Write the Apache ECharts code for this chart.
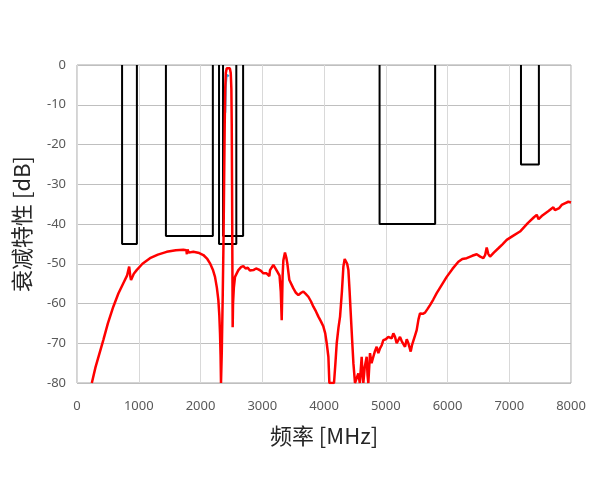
<!DOCTYPE html>
<html>
<head>
<meta charset="utf-8">
<script src="https://cdn.jsdelivr.net/npm/echarts@6/dist/echarts.min.js"></script>
<style>
  html, body { margin: 0; padding: 0; background: #fff; }
  #chart { width: 600px; height: 480px; }
</style>
</head>
<body>
<div id="chart"></div>
<script>
// measured filter response: [frequency MHz, attenuation dB]
const responseRed = [
  [240, -80], [300, -76], [426, -69.2], [500, -65], [588, -60.8], [670, -57.5],
  [750, -54.9], [810, -53], [845, -50.7], [862, -53], [875, -54.1], [920, -52.5],
  [966, -51.6], [1060, -50], [1182, -48.6], [1310, -47.7], [1452, -47.0], [1600, -46.6],
  [1722, -46.5], [1770, -46.6], [1780, -47.6], [1790, -46.4], [1810, -47.2], [1884, -47.0],
  [1980, -47.3], [2046, -47.8], [2110, -48.8], [2154, -49.9], [2200, -51.5], [2235, -53.3],
  [2265, -56], [2289, -59.1], [2305, -63], [2316, -67.5], [2325, -73], [2332, -80],
  [2345, -72], [2360, -58], [2372, -45], [2382, -30], [2392, -15], [2400, -6],
  [2410, -2], [2425, -0.8], [2450, -0.5], [2475, -0.8], [2490, -2], [2500, -6],
  [2506, -15], [2511, -30], [2515, -45], [2518, -55], [2521, -66], [2527, -60],
  [2540, -56], [2559, -53.3], [2613, -51.6], [2660, -50.8], [2694, -50.6], [2730, -51.2],
  [2766, -51], [2800, -51.7], [2856, -51.6], [2900, -51.2], [2937, -51.4], [2980, -51.8],
  [3018, -52.4], [3070, -52.4], [3115, -53.1], [3126, -51.6], [3180, -50.3], [3244, -52.0],
  [3280, -53], [3300, -57], [3315, -64.2], [3330, -53], [3342, -49.1], [3368, -47.2],
  [3390, -48.5], [3406, -49.9], [3439, -54.1], [3504, -56.2], [3545, -57.3], [3585, -57.9],
  [3630, -57.3], [3666, -57.0], [3700, -57.5], [3747, -58.3], [3790, -59.5], [3828, -60.8],
  [3870, -62], [3909, -63.3], [3950, -64.5], [3990, -65.8], [4020, -67.5], [4044, -70.0],
  [4071, -73.4], [4087, -80], [4162, -80], [4185, -75], [4206, -70], [4235, -66],
  [4260, -63.3], [4290, -57], [4314, -50.7], [4335, -48.8], [4352, -48.9], [4375, -50],
  [4395, -51.6], [4415, -57], [4433, -62.5], [4455, -69], [4476, -75], [4502, -80],
  [4530, -80], [4556, -77.6], [4580, -80], [4610, -73.4], [4625, -78], [4637, -80],
  [4660, -76], [4691, -73.4], [4705, -78], [4718, -80], [4745, -72.5], [4770, -75],
  [4799, -73.4], [4825, -72], [4853, -70.9], [4880, -72.5], [4907, -71.3], [4935, -70.5],
  [4961, -69.2], [5000, -69], [5042, -68.4], [5069, -68.4], [5096, -68.8], [5123, -67.5],
  [5150, -68.4], [5177, -70], [5204, -69.2], [5231, -68.4], [5260, -69.5], [5290, -69],
  [5312, -70.9], [5340, -69], [5366, -70], [5385, -70.5], [5404, -72.1], [5425, -70.5],
  [5447, -70], [5475, -68], [5501, -66.7], [5530, -64], [5555, -62.5], [5600, -62.6],
  [5636, -62.3], [5680, -61.3], [5717, -60.4], [5770, -59], [5825, -57.4], [5900, -55.5],
  [5987, -53.3], [6080, -51.3], [6176, -49.5], [6240, -48.8], [6311, -48.6], [6400, -48],
  [6473, -47.6], [6530, -48.2], [6581, -48.6], [6610, -47.8], [6635, -45.9], [6660, -47.5],
  [6689, -48.2], [6750, -47.2], [6824, -46.1], [6890, -45.1], [6959, -44.0], [7060, -43],
  [7174, -41.9], [7300, -39.8], [7400, -38.3], [7445, -37.7], [7475, -38.8], [7498, -38.6],
  [7525, -38], [7552, -37.7], [7630, -36.8], [7714, -35.8], [7740, -36.5], [7768, -36.9],
  [7810, -36], [7849, -35.2], [7900, -34.8], [7957, -34.4], [8000, -34.6]
];

// second trace, only visible at the passband top
const responseBlue = [
  [2402, -12], [2410, -5], [2425, -2.5], [2445, -2], [2460, -2.8]
];

// attenuation masks: [start MHz, stop MHz, level dB]
const masks = [
  [730, 970, -45],
  [1440, 2200, -43],
  [2300, 2580, -45],
  [2365, 2690, -43],
  [4900, 5800, -40],
  [7190, 7480, -25]
];

const xTicks = { min: 0, max: 8000, interval: 1000 };
const yTicks = { min: -80, max: 0, interval: 10 };

const chart = echarts.init(document.getElementById('chart'));

const maskSeries = masks.map(function (m) {
  return {
    type: 'line',
    data: [[m[0], 0], [m[0], m[2]], [m[1], m[2]], [m[1], 0]],
    symbol: 'none',
    lineStyle: { color: '#000', width: 2 },
    z: 2,
    silent: true
  };
});

const option = {
  backgroundColor: '#fff',
  animation: false,
  grid: {
    left: 77, right: 29, top: 65, bottom: 97,
    show: true, borderColor: '#a6a6a6', borderWidth: 1
  },
  xAxis: {
    type: 'value',
    min: xTicks.min, max: xTicks.max, interval: xTicks.interval,
    name: '频率 [MHz]',
    nameLocation: 'middle',
    nameGap: 42,
    nameTextStyle: { fontFamily: 'Noto Sans CJK SC', fontSize: 22, color: '#262626' },
    axisLine: { show: false },
    axisTick: { show: false },
    axisLabel: {
      color: '#595959', fontSize: 13, margin: 17, fontFamily: 'Noto Sans',
      formatter: function (v) { return String(v); }
    },
    splitLine: { show: true, lineStyle: { color: '#d9d9d9', width: 1 } }
  },
  yAxis: {
    type: 'value',
    min: yTicks.min, max: yTicks.max, interval: yTicks.interval,
    name: '衰减特性 [dB]',
    nameLocation: 'middle',
    nameGap: 44,
    nameRotate: 90,
    nameTextStyle: { fontFamily: 'Noto Sans CJK SC', fontSize: 22, color: '#262626' },
    axisLine: { show: false },
    axisTick: { show: false },
    axisLabel: {
      color: '#595959', fontSize: 13, margin: 11, fontFamily: 'Noto Sans',
      formatter: function (v) { return String(v); }
    },
    splitLine: { show: true, lineStyle: { color: '#bfbfbf', width: 1 } }
  },
  series: maskSeries.concat([
    {
      type: 'line',
      data: responseBlue,
      symbol: 'none',
      lineStyle: { color: '#2e9fe0', width: 2 },
      z: 3
    },
    {
      type: 'line',
      data: responseRed,
      symbol: 'none',
      lineStyle: { color: '#ff0000', width: 2.5 },
      z: 4
    }
  ])
};

chart.setOption(option);
</script>
</body>
</html>
